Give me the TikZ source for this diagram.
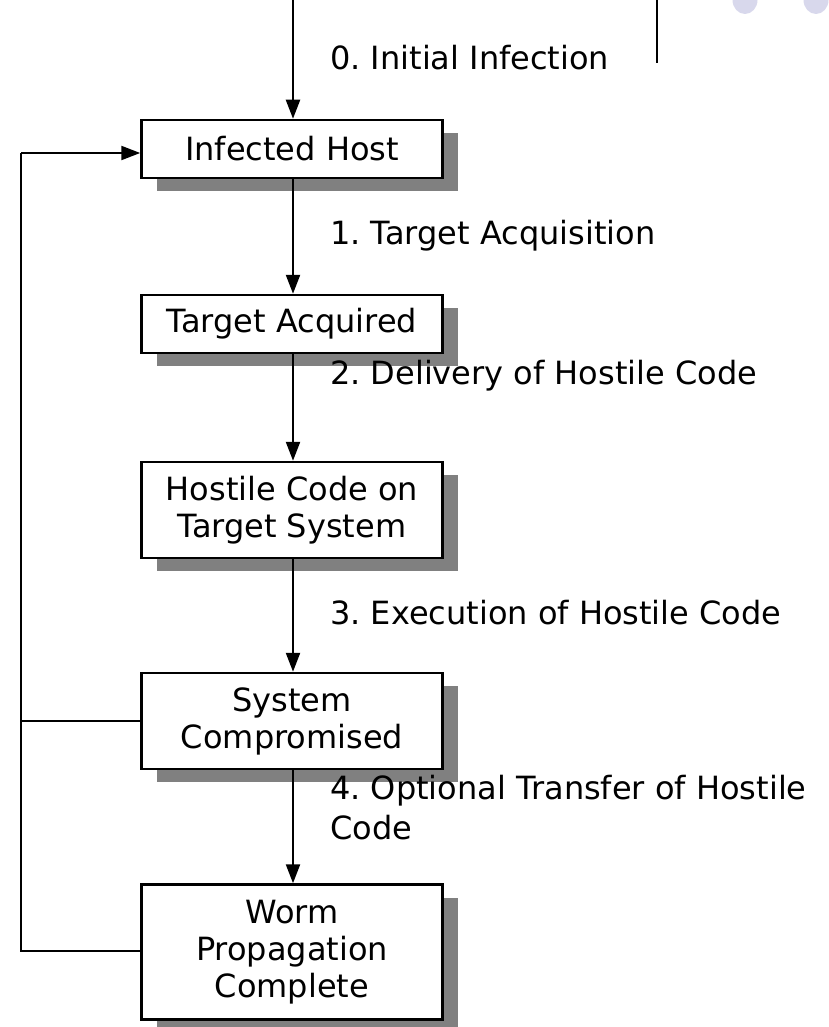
\documentclass[tikz,border=0pt]{standalone}
\usepackage{fontspec}
\setmainfont{DejaVu Sans}
\frenchspacing
\usetikzlibrary{arrows.meta,shadows}
\definecolor{dotcol}{RGB}{216,216,236}
\tikzset{
  stbox/.style={draw=black, line width=2.5pt, fill=white, minimum width=301pt, inner sep=0pt,
    align=center, font=\fontsize{32}{37}\selectfont,
    drop shadow={shadow xshift=15pt, shadow yshift=-13pt, fill=black!50, opacity=1}},
  lbl/.style={anchor=west, align=left, inner sep=0pt, font=\fontsize{32}{40}\selectfont},
  conn/.style={line width=2.3pt, -{Triangle[width=14pt,length=19pt]}},
  plain/.style={line width=2.3pt}
}
\begin{document}
\begin{tikzpicture}[x=1pt,y=-1pt]
\useasboundingbox (0,0) rectangle (828,1027);
% decoration top right
\fill[dotcol] (745,0) ellipse (12.5 and 14);
\fill[dotcol] (816,0) ellipse (12.5 and 14);
\coordinate (vt) at (657,0);
\coordinate (vb) at (657,63);
\draw[line width=1.6pt] (vt) -- (vb);
% boxes
\node[stbox, minimum height=58pt] (host) at (292,149) {Infected Host};
\node[stbox, minimum height=58pt] (acq) at (292,324) {Target Acquired};
\node[stbox, minimum height=96pt] (code) at (292,510) {Hostile Code on\\Target System};
\node[stbox, minimum height=96pt] (comp) at (292,721) {System\\Compromised};
\node[stbox, minimum height=135pt] (worm) at (292,952) {Worm\\Propagation\\Complete};
% connectors
\coordinate (start) at (293,0);
\draw[conn] (start) -- (host.north -| start);
\draw[conn] (host.south -| start) -- (acq.north -| start);
\draw[conn] (acq.south -| start) -- (code.north -| start);
\draw[conn] (code.south -| start) -- (comp.north -| start);
\draw[conn] (comp.south -| start) -- (worm.north -| start);
% feedback
\coordinate (lt) at (21,153);
\coordinate (lb) at (21,951);
\draw[plain] (worm.west |- lb) -- (lb) -- (lt);
\draw[conn] (lt) -- (lt -| host.west);
\draw[plain] (comp.west) -- (comp.west -| lt);
% labels
\node[lbl] (l0) at (330,58) {0. Initial Infection};
\node[lbl] (l1) at (330,236) {1. Target Acquisition};
\node[lbl] (l2) at (330,376) {2. Delivery of Hostile Code};
\node[lbl] (l3) at (330,613) {3. Execution of Hostile Code};
\node[lbl] (l4) at (330,808) {4. Optional Transfer of Hostile\\Code};
\end{tikzpicture}
\end{document}
